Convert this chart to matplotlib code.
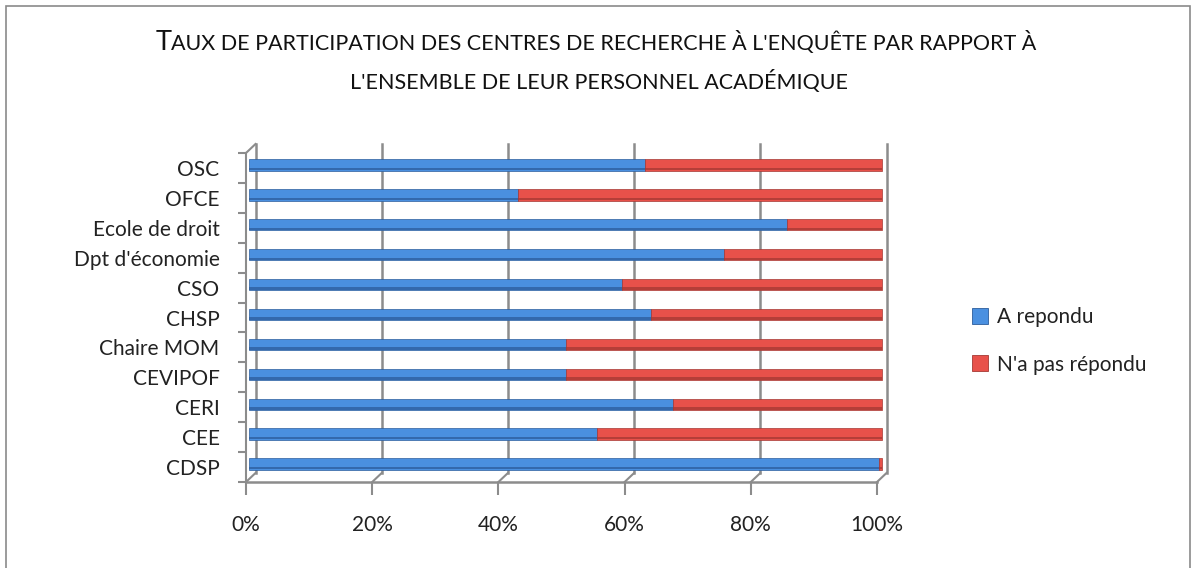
import numpy as np
import matplotlib.pyplot as plt
from matplotlib import transforms
from matplotlib.patches import Rectangle

centres = ['CDSP', 'CEE', 'CERI', 'CEVIPOF', 'Chaire MOM', 'CHSP', 'CSO',
           "Dpt d'économie", 'Ecole de droit', 'OFCE', 'OSC']
repondu = [99.6, 55, 67, 50, 50, 63.5, 59, 75, 85, 42.5, 62.5]
pas_repondu = [100 - v for v in repondu]
pct_ticks = [0, 20, 40, 60, 80, 100]
pct_labels = ['0%', '20%', '40%', '60%', '80%', '100%']
series = ['A repondu', "N'a pas répondu"]

blue, blue_dark = '#4a90e0', '#2c5d9c'
red, red_dark = '#e8514a', '#a53833'
grid_col = '#8c8c8c'

plt.rcParams['font.family'] = ['Lato', 'DejaVu Sans']

W, H = 1194, 568
fig = plt.figure(figsize=(W / 100, H / 100), dpi=100)
ax = fig.add_axes([246 / W, 86 / H, 631 / W, 329 / H])
ax.set_xlim(0, 100)
ax.set_ylim(-0.5, len(centres) - 0.5)
for s in ax.spines.values():
    s.set_visible(False)

# profondeur du "3D" (en pixels)
back = transforms.offset_copy(ax.transData, fig=fig, x=9.5, y=9, units='dots')
# plan des barres : un peu en retrait et légèrement plus large (perspective)
mid = ax.transData + transforms.Affine2D().translate(-246, 0).scale(633 / 631, 1).translate(249, 3)

y = np.arange(len(centres))
top = len(centres) - 0.5

# mur du fond + sol
for t in pct_ticks:
    ax.plot([t, t], [-0.5, top], color=grid_col, lw=1.8, transform=back, clip_on=False, zorder=1)
    p0 = ax.transData.transform((t, -0.5))
    p1 = back.transform((t, -0.5))
    ax.plot([p0[0], p1[0]], [p0[1], p1[1]], color=grid_col, lw=1.5, transform=None,
            clip_on=False, zorder=1)
# mur de gauche
ax.plot([0, 0], [-0.5, top], color=grid_col, lw=1.5, clip_on=False, zorder=1)
p0 = ax.transData.transform((0, top))
p1 = back.transform((0, top))
ax.plot([p0[0], p1[0]], [p0[1], p1[1]], color=grid_col, lw=1.5, transform=None, clip_on=False)
ax.plot([0, 100], [-0.5, -0.5], color=grid_col, lw=1.8, clip_on=False, zorder=1)

# barres
h = 0.38
ax.barh(y, repondu, height=h, color=blue, edgecolor=blue_dark, lw=0.5, transform=mid,
        zorder=3, clip_on=False)
ax.barh(y, pas_repondu, left=repondu, height=h, color=red, edgecolor=red_dark, lw=0.5,
        transform=mid, zorder=3, clip_on=False)
ax.barh(y - h * 0.36, repondu, height=h * 0.22, color=blue_dark, lw=0, transform=mid, zorder=4,
        alpha=0.75, clip_on=False)
ax.barh(y - h * 0.36, pas_repondu, left=repondu, height=h * 0.22, color=red_dark, lw=0,
        transform=mid, zorder=4, alpha=0.75, clip_on=False)

# axes
ax.set_yticks(np.arange(len(centres) + 1) - 0.5, minor=False)
ax.set_yticklabels([])
ax.set_yticks(y, minor=True)
ax.set_yticklabels(centres, minor=True, fontsize=15, color='#222222')
ax.tick_params(axis='y', which='major', length=6, color=grid_col, width=1.5)
ax.tick_params(axis='y', which='minor', length=0, pad=19)
ax.set_xticks(pct_ticks)
ax.set_xticklabels(pct_labels, fontsize=15, color='#222222')
ax.tick_params(axis='x', length=9, color=grid_col, width=1.5, pad=15)

# légende
handles = [Rectangle((0, 0), 1, 1, facecolor=blue, edgecolor=blue_dark, lw=0.6),
           Rectangle((0, 0), 1, 1, facecolor=red, edgecolor=red_dark, lw=0.6)]
fig.legend(handles, series, loc='center left', bbox_to_anchor=(953 / W, 1 - 341 / H),
           frameon=False, fontsize=15, handlelength=0.8, handleheight=0.8,
           handletextpad=0.4, labelspacing=1.3, labelcolor='#222222')

# titre en petites capitales
renderer = fig.canvas.get_renderer()
big = fig.text(0, 1 - 50 / H, 'T', fontsize=19.5, va='baseline', color='#111111')
rest = fig.text(0, 1 - 50 / H,
                "AUX DE PARTICIPATION DES CENTRES DE RECHERCHE À L'ENQUÊTE PAR RAPPORT À",
                fontsize=15.5, va='baseline', color='#111111')
w1 = big.get_window_extent(renderer).width
w2 = rest.get_window_extent(renderer).width
x0 = 596 - (w1 + w2) / 2
big.set_x(x0 / W)
rest.set_x((x0 + w1) / W)
fig.text(599 / W, 1 - 89 / H, "L'ENSEMBLE DE LEUR PERSONNEL ACADÉMIQUE", fontsize=15.5,
         va='baseline', ha='center', color='#111111')

# cadre
fig.patches.append(Rectangle((6 / W, -0.1), 1184 / W, 1.1 - 6 / H, transform=fig.transFigure,
                             fill=False, edgecolor='#8a8a8a', lw=1.2))

fig.savefig('out.png', dpi=100, facecolor='white')
